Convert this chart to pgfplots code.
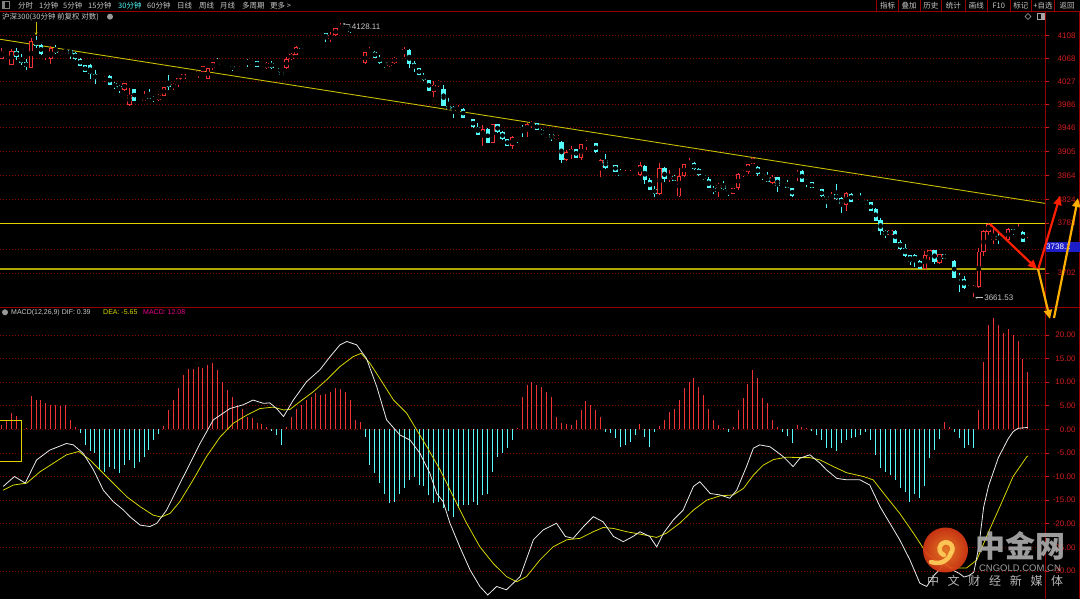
\documentclass[border=0pt]{standalone}
\usepackage{fontspec}
\setmainfont{Liberation Sans}
\newfontfamily\cjk{Noto Sans CJK SC}
\usepackage{pgfplots}
\pgfplotsset{compat=1.18}
\usepackage{pgfplotstable}
\usetikzlibrary{arrows.meta}
\definecolor{cup}{RGB}{240,50,50}
\definecolor{cdn}{RGB}{84,252,252}
\definecolor{gridred}{RGB}{130,0,0}
\definecolor{framered}{RGB}{150,0,0}
\definecolor{ticklab}{RGB}{210,30,30}
\definecolor{trend}{RGB}{200,190,0}
\definecolor{hline}{RGB}{225,210,0}
\definecolor{hline2}{RGB}{175,165,0}
\definecolor{difc}{RGB}{235,235,235}
\definecolor{deac}{RGB}{215,215,0}
\definecolor{txtgray}{RGB}{200,200,200}
\definecolor{boxblue}{RGB}{30,30,200}
\definecolor{arrred}{RGB}{255,30,0}
\definecolor{arrorange}{RGB}{255,175,0}
\definecolor{logoin}{RGB}{245,130,40}
\definecolor{logoout}{RGB}{215,55,20}
\definecolor{swirl}{RGB}{255,205,90}
\definecolor{wmgray}{RGB}{170,170,170}
\definecolor{wmgray2}{RGB}{200,200,200}

\pgfplotstableread{
x o h l c
0 4068 4086 4068 4080
2 4058 4085 4058 4081
6 4053 4103 4053 4098
9 4075 4080 4066 4080
10 4067 4089 4059 4087
12 4076 4081 4073 4081
13 4079 4085 4077 4083
21 4030 4038 4029 4037
25 4015 4027 4014 4027
26 3989 4018 3988 4006
28 3995 4001 3995 3998
29 3996 4012 3996 4004
32 3998 4008 3997 4006
33 4005 4020 4004 4019
35 4019 4027 4015 4024
36 4026 4035 4020 4035
37 4033 4042 4033 4042
38 4041 4045 4041 4045
40 4039 4047 4036 4047
41 4046 4055 4046 4055
42 4033 4052 4033 4052
43 4052 4062 4049 4062
48 4052 4056 4051 4055
49 4055 4057 4055 4057
51 4058 4066 4057 4064
54 4052 4062 4051 4061
58 4052 4070 4050 4067
59 4067 4077 4066 4076
60 4075 4089 4074 4088
62 4085 4090 4085 4090
63 4088 4093 4088 4093
64 4091 4097 4091 4097
67 4101 4114 4097 4108
68 4108 4120 4107 4120
69 4118 4128.11 4117 4123
74 4060 4079 4059 4079
75 4077 4088 4076 4082
79 4056 4063 4055 4063
80 4061 4070 4060 4070
82 4077 4088 4071 4084
88 4012 4029 4003 4024
89 4023 4032 4020 4030
93 3977 3989 3976 3983
98 3934 3955 3919 3948
100 3925 3957 3924 3957
104 3919 3936 3915 3934
107 3945 3958 3935 3957
108 3955 3962 3951 3958
111 3938 3941 3933 3941
113 3931 3938 3930 3938
115 3895 3911 3894 3908
116 3905 3918 3898 3914
118 3899 3922 3896 3922
119 3923 3929 3913 3925
120 3921 3926 3920 3925
122 3879 3896 3866 3895
124 3881 3887 3880 3887
127 3868 3878 3867 3870
128 3868 3878 3868 3875
130 3870 3892 3869 3887
134 3837 3890 3836 3881
136 3863 3878 3858 3868
138 3833 3881 3832 3868
139 3868 3888 3867 3888
140 3887 3898 3884 3888
146 3847 3856 3833 3853
149 3838 3847 3838 3847
150 3848 3872 3845 3871
151 3871 3878 3866 3876
152 3875 3888 3871 3888
153 3888 3900 3888 3898
157 3856 3869 3854 3867
159 3849 3856 3848 3855
162 3868 3877 3859 3875
169 3827 3841 3826 3831
172 3818 3841 3808 3839
174 3825 3827 3818 3827
181 3767 3776 3767 3776
188 3709 3739 3709 3733
189 3731 3742 3725 3742
191 3720 3735 3719 3735
193 3726 3729 3725 3729
198 3673 3682 3661.53 3680
199 3679 3745 3678 3739
200 3739 3776 3731 3774
201 3773 3788 3767 3786
202 3758 3779 3753 3766
205 3759 3778 3758 3777
207 3771 3786 3770 3774
209 3754 3763 3754 3756
}\candleup

\pgfplotstableread{
x o h l c
1 4078 4078 4073 4077
3 4081 4086 4067 4071
4 4070 4076 4058 4060
5 4062 4067 4049 4053
7 4099 4107 4086 4090
8 4091 4093 4075 4076
11 4086 4091 4077 4077
14 4083 4083 4068 4076
15 4077 4079 4067 4068
16 4068 4068 4056 4056
17 4057 4057 4045 4045
18 4057 4058 4033 4042
19 4042 4048 4025 4034
20 4035 4035 4030 4031
22 4038 4039 4024 4024
23 4026 4028 4017 4020
24 4021 4023 4010 4016
27 4016 4016 3996 3996
30 4006 4016 4000 4000
31 4001 4004 3995 3998
34 4028 4039 4015 4020
39 4045 4045 4040 4040
44 4061 4069 4058 4058
45 4058 4058 4052 4056
46 4058 4060 4052 4055
47 4055 4057 4048 4052
50 4064 4067 4054 4061
52 4064 4064 4054 4054
53 4054 4059 4053 4053
55 4061 4064 4051 4052
56 4052 4052 4045 4045
57 4045 4045 4040 4041
61 4091 4093 4085 4085
65 4098 4100 4094 4094
66 4111 4112 4097 4103
70 4123 4124 4119 4120
71 4120 4122 4113 4114
72 4114 4115 4112 4112
73 4112 4113 4110 4110
76 4080 4080 4070 4070
77 4070 4074 4060 4061
78 4062 4062 4052 4058
81 4070 4070 4067 4067
83 4083 4084 4052 4059
84 4060 4063 4046 4052
85 4052 4052 4040 4040
86 4039 4043 4031 4032
87 4032 4032 4013 4013
90 4016 4023 3987 3987
91 3987 4000 3982 3982
92 3985 3987 3968 3979
94 3983 3984 3967 3967
95 3968 3968 3964 3965
96 3965 3965 3951 3951
97 3952 3958 3938 3938
99 3948 3949 3924 3925
101 3957 3957 3941 3943
102 3943 3944 3930 3931
103 3931 3931 3919 3919
105 3935 3935 3924 3933
106 3951 3955 3934 3946
109 3958 3958 3946 3946
110 3946 3947 3939 3939
112 3940 3940 3928 3933
114 3926 3927 3890 3896
117 3914 3914 3899 3899
121 3924 3924 3908 3908
123 3895 3905 3881 3881
125 3887 3887 3875 3875
126 3875 3880 3868 3868
129 3876 3877 3873 3874
131 3885 3886 3855 3861
132 3861 3864 3844 3844
133 3845 3851 3833 3838
135 3881 3882 3858 3862
137 3868 3869 3859 3860
141 3890 3891 3878 3879
142 3879 3881 3869 3870
143 3870 3870 3862 3862
144 3862 3866 3847 3847
145 3847 3850 3838 3841
147 3853 3859 3845 3845
148 3844 3844 3835 3840
154 3884 3885 3868 3871
155 3871 3873 3861 3867
156 3866 3875 3858 3858
158 3866 3866 3841 3850
160 3856 3860 3847 3847
161 3847 3847 3833 3834
163 3876 3877 3858 3858
164 3860 3863 3849 3857
165 3857 3857 3847 3847
166 3847 3851 3845 3845
167 3845 3846 3832 3833
168 3833 3834 3813 3830
170 3837 3853 3827 3829
171 3830 3831 3806 3820
173 3838 3839 3824 3824
175 3827 3839 3823 3824
176 3827 3827 3818 3820
177 3823 3823 3808 3808
178 3811 3813 3791 3791
179 3793 3796 3767 3774
180 3774 3776 3763 3768
182 3774 3776 3754 3754
183 3755 3759 3742 3743
184 3745 3752 3730 3731
185 3733 3733 3716 3722
186 3733 3735 3713 3723
187 3723 3725 3709 3709
190 3742 3742 3719 3722
192 3735 3735 3726 3726
194 3723 3725 3694 3694
195 3696 3702 3670 3694
196 3692 3697 3676 3677
197 3679 3682 3673 3675
203 3766 3770 3753 3759
204 3760 3761 3754 3755
206 3777 3777 3767 3770
208 3773 3773 3756 3756
}\candledn

\pgfplotstableread{
x m
0 1
1 2
2 3.4
3 2.8
4 0.5
5 0.3
6 7
7 6.2
8 6.2
9 5.6
10 5.2
11 5.2
12 5
13 5.2
14 2
15 0.5
16 -0.8
17 -3.3
18 -4.5
19 -5.1
20 -8.6
21 -9
22 -7.9
23 -8.5
24 -9.3
25 -7.5
26 -6.5
27 -8.3
28 -7
29 -5.8
30 -4.4
31 -2.3
32 -1
33 0.6
34 4.1
35 6.2
36 8.7
37 11.5
38 12.7
39 12.7
40 13.3
41 12.9
42 13.6
43 14
44 12.6
45 10.1
46 8.3
47 6.9
48 5.2
49 4.4
50 2.7
51 2.3
52 1.4
53 1.1
54 0.4
55 -0.3
56 -1.2
57 -3.3
58 0.5
59 2.7
60 4.4
61 5.2
62 6.2
63 6.9
64 7.6
65 7.3
66 7.5
67 8
68 8.7
69 8.5
70 8
71 6.2
72 2
73 1.6
74 -1.6
75 -7.6
76 -9.3
77 -11.4
78 -13.6
79 -15.7
80 -15.3
81 -13.6
82 -12.5
83 -10.7
84 -10
85 -11.8
86 -12.1
87 -13.9
88 -15.7
89 -15.3
90 -16.7
91 -17.4
92 -18.5
93 -16.7
94 -16
95 -16
96 -15.3
97 -16
98 -13.9
99 -13.6
100 -9
101 -5.8
102 -5.1
103 -4
104 -2.3
105 0.3
106 6.9
107 9.4
108 10.1
109 9.4
110 9
111 8
112 6.9
113 2.7
114 1.4
115 1.1
116 1
117 2
118 4.1
119 5.9
120 5.2
121 4.1
122 2.7
123 -0.5
124 -0.8
125 -1.9
126 -3.7
127 -3.3
128 -2.6
129 -1.2
130 1.2
131 -1.6
132 -3.7
133 -0.5
134 0.7
135 2
136 3.7
137 4.4
138 6.2
139 8.7
140 10.1
141 10.8
142 9
143 7.3
144 4.4
145 2
146 0.9
147 0.2
148 -0.5
149 0.5
150 4.1
151 6.6
152 9.7
153 12.6
154 10.8
155 6.6
156 5.5
157 2
158 0.5
159 -0.5
160 -1.5
161 -3
162 0.9
163 0.5
164 0.2
165 -0.3
166 -1.2
167 -2.3
168 -4
169 -4
170 -4.7
171 -3
172 -2.3
173 -1.9
174 -1.6
175 -1.2
176 -0.5
177 -2.3
178 -5.4
179 -8.3
180 -9
181 -9.7
182 -10.7
183 -12.5
184 -13.3
185 -15.3
186 -13.6
187 -14.6
188 -12.1
189 -6.1
190 -4.4
191 -2
192 1.5
193 0.5
194 -0.5
195 -1.9
196 -4
197 -3.3
198 -4
199 4
200 14.3
201 22.1
202 23.5
203 22.1
204 20.5
205 21.2
206 20
207 18.7
208 15
209 12.08
}\histT

\pgfplotstableread{
x v
0.3 -12.1
2.6 -10.0
4.8 -11.4
7.1 -6.5
9.8 -4.4
13.2 -3.0
14.6 -3.3
16.6 -5.1
18.7 -8.6
20.7 -12.9
22.7 -15.3
24.8 -17.1
26.1 -18.5
28.2 -20.3
30.2 -20.6
31.6 -19.9
33.6 -17.1
35.6 -12.9
37.7 -8.6
40.4 -3.0
43.1 2.0
46.5 4.4
49.2 5.2
51.2 6.2
53.3 5.5
54.6 5.6
56.0 4.4
57.4 2.7
59.4 6.2
62.1 10.1
64.8 12.6
66.9 15.4
68.9 17.9
70.3 18.6
72.3 17.9
74.3 15.0
76.4 9.0
78.4 2.0
81.1 -1.2
83.2 -2.3
85.2 -5.1
87.2 -9.3
88.6 -13.6
89.9 -15.3
91.3 -19.9
93.3 -24.9
95.4 -29.8
97.4 -33.3
99.0 -35.1
100.8 -33.3
102.8 -34.0
105.6 -31.2
108.3 -23.4
110.3 -21.3
113.0 -19.9
114.8 -22.7
116.4 -23.1
118.5 -20.6
120.5 -18.5
122.5 -19.6
124.6 -22.7
126.6 -23.8
128.6 -22.7
130.0 -21.7
132.0 -22.7
133.4 -24.9
134.8 -22.0
136.8 -19.2
138.8 -17.1
140.9 -12.1
142.2 -11.1
144.3 -13.6
146.3 -13.9
148.3 -14.6
149.7 -12.9
151.7 -7.9
153.1 -4.0
154.4 -3.3
156.5 -3.7
157.8 -4.7
159.2 -5.8
161.2 -7.9
162.6 -6.1
164.6 -5.4
166.7 -7.2
168.0 -8.6
170.1 -10.4
172.1 -10.7
174.8 -10.7
176.8 -11.8
178.9 -16.4
180.9 -19.9
182.9 -23.4
185.0 -27.7
187.0 -32.6
188.4 -33.3
190 -30.8
191 -29.8
192 -28.2
193 -29.2
194 -30.0
195 -30.5
196 -31.3
197 -31.0
198 -30.3
199 -25
200 -16.5
201 -12
202 -9
203 -6
204 -4
205 -2
206 -0.5
207 0.2
208 0.3
209 0.39
}\difT

\pgfplotstableread{
x v
0.3 -12.9
2.4 -11.8
5.1 -11.4
7.8 -9.0
10.5 -7.2
13.2 -5.4
15.7 -4.7
18.0 -6.5
20.0 -8.6
22.7 -11.4
25.5 -14.3
28.2 -16.4
30.9 -18.2
32.5 -18.6
34.3 -17.8
36.3 -15.3
39.0 -10.7
41.7 -5.8
44.5 -1.6
47.2 1.3
49.9 3.0
52.6 4.4
55.3 4.7
57.4 4.1
58.7 4.2
60.8 5.9
63.5 8.0
66.2 10.5
68.9 13.3
71.6 15.4
73.2 16.1
75.0 14.0
77.0 10.8
79.8 6.2
82.5 3.4
84.5 -0.1
86.6 -3.7
89.3 -8.6
92.0 -14.3
94.7 -19.9
97.4 -24.9
100.1 -28.4
102.8 -31.2
104.9 -32.3
106.9 -31.2
109.6 -27.7
112.3 -24.9
115.1 -23.4
117.8 -23.1
120.5 -21.7
122.5 -20.8
124.6 -21.0
127.3 -21.7
130.0 -22.2
133.4 -22.9
135.4 -22.0
138.1 -19.9
140.9 -17.1
143.6 -15.0
146.3 -14.1
149.0 -13.9
151.1 -12.5
153.1 -9.7
155.1 -7.6
157.2 -6.4
159.9 -5.9
162.6 -6.0
164.6 -6.0
166.7 -6.5
169.4 -7.9
172.1 -9.2
175.5 -10.0
177.5 -10.7
180.2 -14.3
182.9 -17.8
185.7 -22.0
188.4 -26.3
191.1 -28.4
193.8 -29.4
196.5 -29.4
198.6 -27.7
200.6 -22.7
203.3 -16.4
206.0 -10.0
208.8 -5.8
209 -5.65
}\deaT

\pgfplotsset{panel/.style={scale only axis, anchor=south west,
  xmin=-0.346, xmax=212.5, axis line style={draw=none}, xtick=\empty,
  ytick pos=right, yticklabel pos=right, tick align=outside,
  major tick length=4pt, tick style={ticklab, line width=0.6pt},
  ymajorgrids, grid style={gridred, dash pattern=on 1pt off 2pt, line width=0.6pt},
  yticklabel style={font=\fontsize{8}{9}\selectfont, text=ticklab, anchor=east, xshift=30pt}},
  wick/.style={only marks, mark=none, forget plot, error bars/.cd, y dir=both, y explicit, error mark=none, error bar style={#1, line width=0.9pt}},
  body/.style 2 args={only marks, mark=none, forget plot, error bars/.cd, y dir=both, y explicit, error mark=none, error bar style={#1, line width=#2}}
}

\begin{document}
\begin{tikzpicture}[x=1pt,y=1pt]
\fill[black] (0,0) rectangle (1080,599);

% ---------- price panel ----------
\begin{axis}[panel, at={(0pt,291.7pt)}, width=1045pt, height=295.3pt,
  ymin=3643.9, ymax=4147.7,
  ytick={3702,3743.4,3787.8,3828.2,3868.4,3909.4,3950.3,3990.3,4028.8,4068.7,4108},
  yticklabels={3702,,3783,3824,3864,3905,3946,3986,4027,4068,4108}]
 \addplot[trend, line width=0.9pt, forget plot] coordinates {(-0.346,4101.2) (212.5,3821.2)};
 \addplot[hline, line width=0.8pt, forget plot] coordinates {(-0.346,3787.2) (212.5,3787.2)};
 \addplot[hline2, line width=1.8pt, forget plot] coordinates {(-0.346,3708.6) (212.5,3708.6)};
 \addplot[wick=cup] table[x=x, y expr={(\thisrow{h}+\thisrow{l})/2}, y error expr={(\thisrow{h}-\thisrow{l})/2+0.4}] {\candleup};
 \addplot[wick=cdn] table[x=x, y expr={(\thisrow{h}+\thisrow{l})/2}, y error expr={(\thisrow{h}-\thisrow{l})/2+0.4}] {\candledn};
 \addplot[body={cdn}{4.2pt}] table[x=x, y expr={(\thisrow{o}+\thisrow{c})/2}, y error expr={max(abs(\thisrow{o}-\thisrow{c})/2,0.9)}] {\candledn};
 \addplot[body={cup}{4.3pt}] table[x=x, y expr={(\thisrow{o}+\thisrow{c})/2}, y error expr={max(abs(\thisrow{o}-\thisrow{c})/2,0.9)}] {\candleup};
 \addplot[body={black}{2.4pt}] table[x=x, y expr={(\thisrow{o}+\thisrow{c})/2}, y error expr={max(abs(\thisrow{o}-\thisrow{c})/2-1.6,0)}] {\candleup};
 \draw[trend, line width=0.8pt, -{Stealth[length=3pt,width=3pt]}] (axis cs:7,4131) -- (axis cs:7,4108);
 \draw[txtgray, line width=0.5pt, -{Stealth[length=2pt,width=2pt]}] (axis cs:70.9,4121.5) -- (axis cs:70.9,4126) -- (axis cs:69.5,4127.5);
 \node[anchor=west, text=txtgray, font=\fontsize{8}{9}\selectfont, inner sep=0pt] at (axis cs:71.3,4122) {4128.11};
 \draw[txtgray, line width=0.5pt, -{Stealth[length=2pt,width=2pt]}] (axis cs:199.9,3660.3) -- (axis cs:198.3,3660.3);
 \node[anchor=west, text=txtgray, font=\fontsize{8}{9}\selectfont, inner sep=0pt] at (axis cs:200.1,3660.3) {3661.53};
\end{axis}

% ---------- MACD panel ----------
\begin{axis}[panel, at={(0pt,0pt)}, width=1045pt, height=291.7pt,
  ymin=-35.95, ymax=25.85, ytick={-30,-25,...,20},
  yticklabels={-30.00,-25.00,-20.00,-15.00,-10.00,-5.00,0.00,5.00,10.00,15.00,20.00}]
 \addplot[ycomb, mark=none, cup, line width=1pt, forget plot] table[x=x, y expr={max(\thisrow{m},0)}] {\histT};
 \addplot[ycomb, mark=none, cdn, line width=1pt, forget plot] table[x=x, y expr={min(\thisrow{m},0)}] {\histT};
 \addplot[deac, line width=0.8pt, mark=none] table[x=x, y=v] {\deaT};
 \addplot[difc, line width=0.8pt, mark=none] table[x=x, y=v] {\difT};
\end{axis}

% ---------- frame ----------
\draw[framered, line width=0.8pt] (0,587.7) -- (1080,587.7);
\draw[framered, line width=0.8pt] (0,291.7) -- (1080,291.7);
\draw[framered, line width=0.8pt] (1045,0) -- (1045,587.7);
\draw[framered, line width=0.8pt] (1079.3,0) -- (1079.3,587.7);
\foreach \sx in {876.7,898.3,920,941.7,965,987.7,1010,1031.7,1054.3} {\draw[framered, line width=0.7pt] (\sx,587.7) -- (\sx,599);}

% toolbar
\draw[gray, line width=0.6pt] (2,590.5) rectangle (9.5,597.5);
\fill[gray] (2,590.5) rectangle (4.5,597.5);
\begin{scope}[every node/.style={anchor=west, inner sep=0pt, text=txtgray, font=\cjk\fontsize{7.5}{8}\selectfont}]
\node at (18,593.3) {分时};
\node at (39,593.3) {1分钟};
\node at (63,593.3) {5分钟};
\node at (88,593.3) {15分钟};
\node[text=cdn] at (118,593.3) {30分钟};
\node at (147,593.3) {60分钟};
\node at (177,593.3) {日线};
\node at (199,593.3) {周线};
\node at (220,593.3) {月线};
\node at (242,593.3) {多周期};
\node at (270,593.3) {更多 >};
\end{scope}
\begin{scope}[every node/.style={anchor=center, inner sep=0pt, text=txtgray, font=\cjk\fontsize{7.5}{8}\selectfont}]
\node at (887.5,593.3) {指标};
\node at (909.2,593.3) {叠加};
\node at (930.9,593.3) {历史};
\node at (953.3,593.3) {统计};
\node at (976.3,593.3) {画线};
\node at (998.8,593.3) {F10};
\node at (1020.8,593.3) {标记};
\node at (1043,593.3) {+自选};
\node at (1067,593.3) {返回};
\end{scope}
\node[anchor=west, inner sep=0pt, text=txtgray, font=\cjk\fontsize{7.5}{8}\selectfont] at (2,582.3) {沪深300(30分钟 前复权 对数)};
\fill[gray!80] (110,582.3) circle (3);
\draw[gray!70, line width=0.5pt] (1028,579.5) -- (1031,582.5) -- (1028,585.5) -- (1025,582.5) -- cycle;
\draw[gray!70, line width=0.5pt] (1037,579.5) rectangle (1044,585.5);
\fill[gray!70] (1041,579.5) rectangle (1044,585.5);

% MACD header
\fill[gray!80] (5,286.7) circle (3);
\begin{scope}[every node/.style={anchor=west, inner sep=0pt, font=\fontsize{7}{8}\selectfont}]
\node[text=txtgray] at (11,286.7) {MACD(12,26,9) DIF: 0.39};
\node[text=deac] at (103,286.7) {DEA: -5.65};
\node[text=magenta] at (143,286.7) {MACD: 12.08};
\end{scope}

\draw[hline, line width=0.7pt] (-1,138) rectangle (21,179);

\fill[boxblue] (1045.5,347.3) rectangle (1080,357.3);
\node[anchor=west, inner sep=0pt, text=white, font=\fontsize{8}{9}\selectfont] at (1046,352.3) {3738.1};

\draw[arrred, line width=2.2pt, -{Triangle[length=9pt,width=8pt]}] (990,375) -- (1037,330);
\draw[arrred, line width=2.2pt, -{Triangle[length=9pt,width=8pt]}] (1038,329) -- (1060,403);
\draw[arrorange, line width=2.2pt, -{Triangle[length=9pt,width=8pt]}] (1038,330) -- (1050,280);
\draw[arrorange, line width=2.2pt, -{Triangle[length=9pt,width=8pt]}] (1054,281) -- (1078,401);

\begin{scope}[opacity=0.92]
\shade[inner color=logoin, outer color=logoout] (945.5,49) circle (22.5);
\draw[swirl, line width=4.5pt, line cap=round] (951,46) arc (-40:250:6.5);
\draw[swirl, line width=4.5pt, line cap=round] (951,46) .. controls (948,38) and (940,34) .. (931,37);
\node[inner sep=0pt, text=wmgray, font=\cjk\bfseries\fontsize{30}{30}\selectfont] at (1020,53) {中金网};
\node[inner sep=0pt, text=wmgray, font=\fontsize{9.5}{10}\selectfont] at (1020,31) {CNGOLD.COM.CN};
\foreach \ch [count=\k from 0] in {中,文,财,经,新,媒,体} {
  \node[inner sep=0pt, text=wmgray2, font=\cjk\fontsize{12}{12}\selectfont] at (933+20.7*\k,18.3) {\ch};
}
\end{scope}

\pgfresetboundingbox
\path (0,0) rectangle (1080,599);
\end{tikzpicture}
\end{document}
